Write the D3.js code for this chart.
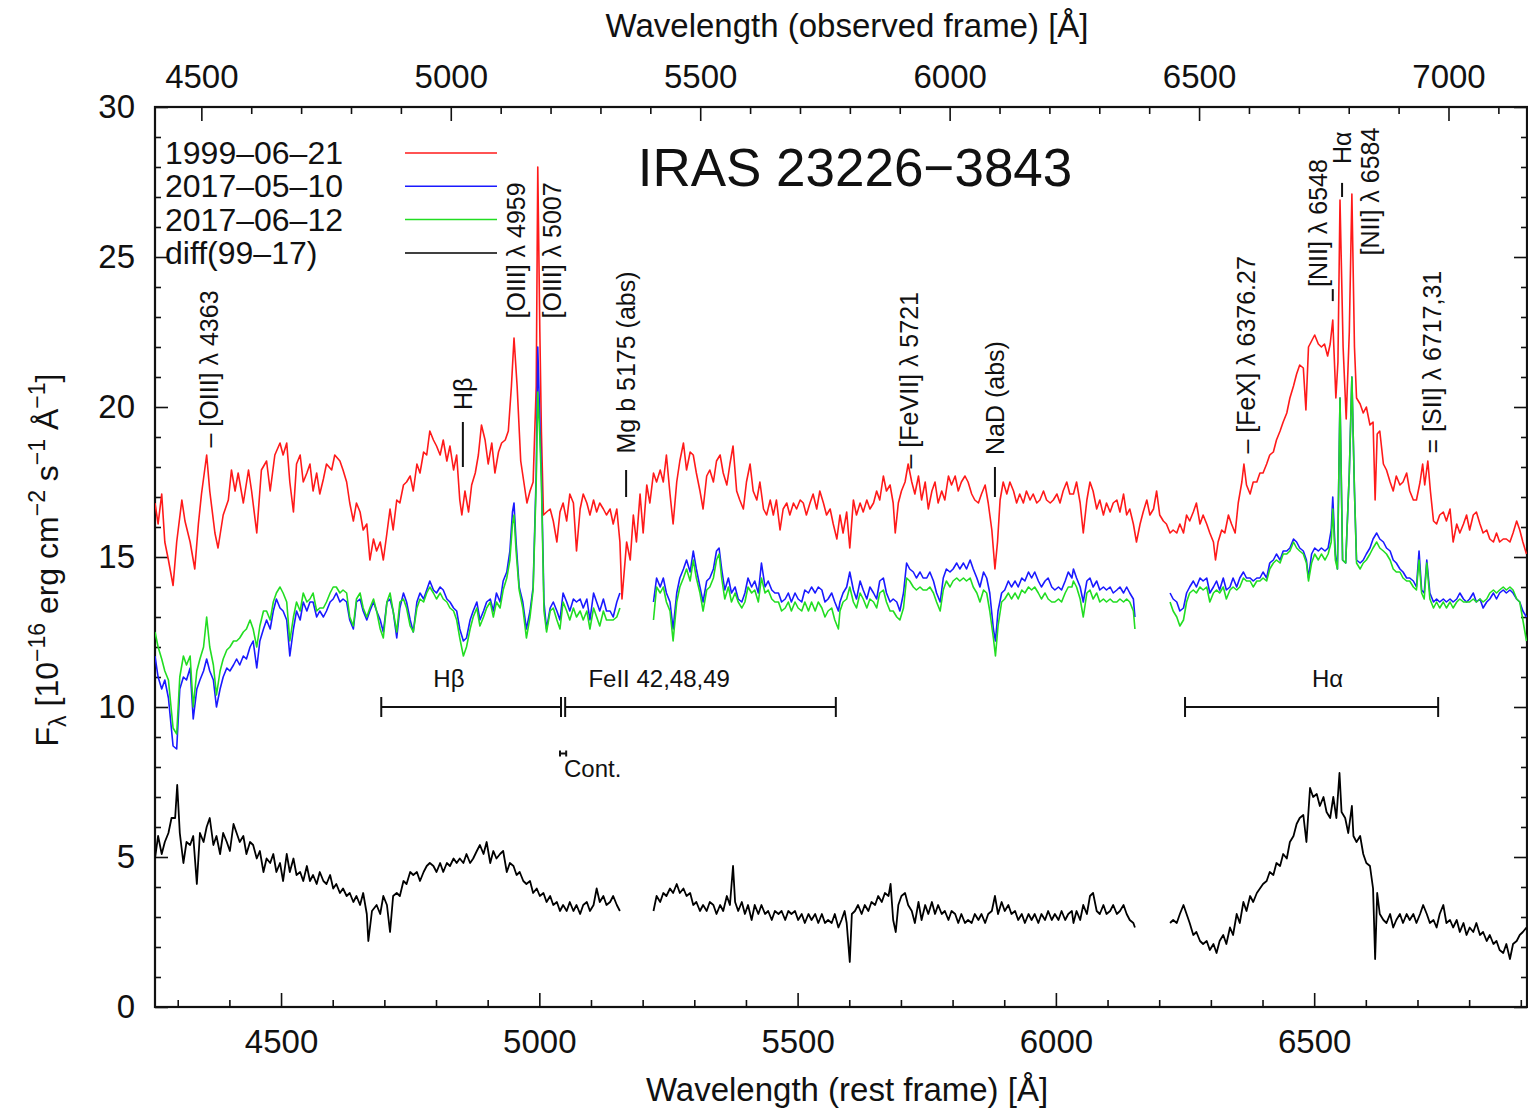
<!DOCTYPE html>
<html><head><meta charset="utf-8">
<script src="https://cdn.jsdelivr.net/npm/d3@7"></script>
<style>body{margin:0;background:#fff} text{font-family:"Liberation Sans",Arial,Helvetica,sans-serif;fill:#111}</style>
</head><body><svg id="c" width="1528" height="1110"></svg>
<script>
// ---------------- data ----------------
const restRange = [4256, 6912];
const redshift = 0.0355;
const fluxRange = [0, 30];
const restMajorTicks = [4500, 5000, 5500, 6000, 6500];
const obsMajorTicks = [4500, 5000, 5500, 6000, 6500, 7000];
const fluxMajorTicks = [0, 5, 10, 15, 20, 25, 30];
const seriesNames = ["1999\u201306\u201321", "2017\u201305\u201310", "2017\u201306\u201312", "diff(99\u201317)"];
const seriesColors = ["#ff1a1a", "#1a1aff", "#22dd22", "#000000"];
const titleText = "IRAS 23226\u22123843";

const spec1999 = [[4256,16.8],[4262,16.1],[4269,17.1],[4275,15.5],[4282,14.9],[4291,14.05],[4298,15.5],[4308,16.9],[4314,16.2],[4324,15.5],[4333,14.6],[4340,16.1],[4346,17.1],[4356,18.4],[4362,17.2],[4372,15.8],[4378,15.3],[4388,16.4],[4398,16.9],[4404,17.9],[4411,17.2],[4417,17.8],[4427,16.8],[4437,17.9],[4443,17.2],[4453,15.8],[4462,17.9],[4472,18.2],[4479,17.2],[4488,18.4],[4498,18.8],[4504,18.4],[4511,18.8],[4517,17.5],[4524,16.5],[4530,18.1],[4537,18.4],[4543,17.5],[4550,17.8],[4556,18.1],[4562,17.2],[4569,17.8],[4575,17.1],[4582,17.6],[4588,18.1],[4598,17.9],[4604,18.4],[4614,18.2],[4620,17.9],[4627,17.5],[4633,16.8],[4640,16.2],[4646,16.8],[4653,16.5],[4659,15.9],[4666,16.1],[4672,14.9],[4679,15.6],[4685,15.2],[4692,15.5],[4698,14.9],[4705,15.8],[4711,16.6],[4717,15.9],[4724,16.9],[4730,16.8],[4737,17.4],[4743,17.5],[4750,17.7],[4756,17.2],[4763,18.1],[4769,17.8],[4776,18.5],[4782,18.4],[4788,19.2],[4795,18.9],[4801,18.7],[4808,18.4],[4814,18.9],[4821,18.2],[4827,18.7],[4834,17.9],[4840,18.4],[4846,16.9],[4850,16.4],[4856,17.2],[4863,16.5],[4869,17.4],[4876,17.8],[4882,18.4],[4888,19.4],[4895,18.9],[4901,18.1],[4908,18.8],[4914,17.8],[4921,18.5],[4927,18.8],[4934,18.9],[4940,19.2],[4946,20.7],[4951,22.3],[4957,20.7],[4964,18.2],[4970,17.5],[4976,16.8],[4982,17.2],[4988,17.5],[4994,20.7],[4997,28.0],[5001,22.5],[5004,19.2],[5008,16.4],[5014,16.5],[5021,16.6],[5027,16.2],[5034,15.5],[5040,16.5],[5046,16.8],[5053,16.2],[5059,17.1],[5066,16.8],[5072,15.2],[5079,16.6],[5085,17.1],[5092,16.8],[5098,16.4],[5105,16.9],[5111,16.5],[5117,16.8],[5124,16.6],[5130,16.4],[5137,16.6],[5143,16.1],[5150,16.6],[5156,15.5],[5160,13.6],[5169,15.5],[5176,14.9],[5182,16.4],[5188,15.5],[5195,17.1],[5201,15.8],[5208,17.4],[5214,16.8],[5221,17.8],[5227,17.5],[5234,17.9],[5240,17.5],[5246,18.4],[5253,17.1],[5259,16.1],[5266,17.5],[5272,18.2],[5279,18.8],[5285,17.9],[5292,18.5],[5298,18.4],[5304,17.8],[5311,17.2],[5317,16.6],[5324,17.7],[5330,17.9],[5337,17.5],[5343,18.2],[5350,18.4],[5356,17.8],[5363,17.4],[5369,18.1],[5375,18.7],[5382,17.2],[5388,16.9],[5395,16.6],[5401,17.5],[5408,18.1],[5414,17.2],[5421,16.9],[5427,17.5],[5434,16.6],[5440,16.4],[5447,16.9],[5453,16.4],[5459,16.9],[5466,15.9],[5472,16.6],[5479,16.8],[5485,16.4],[5492,16.8],[5498,16.6],[5505,16.9],[5511,16.8],[5517,16.4],[5524,16.8],[5530,17.1],[5537,16.6],[5543,17.2],[5550,16.8],[5556,16.4],[5563,16.6],[5569,16.1],[5576,15.6],[5582,16.4],[5588,15.8],[5595,16.5],[5601,15.3],[5608,16.9],[5614,16.4],[5621,16.8],[5627,16.5],[5634,16.9],[5640,16.6],[5647,16.8],[5653,17.2],[5659,16.9],[5666,17.7],[5672,17.2],[5679,17.4],[5685,16.8],[5689,15.8],[5695,16.8],[5701,17.2],[5708,17.5],[5714,18.1],[5721,17.5],[5727,17.1],[5734,17.7],[5740,16.9],[5747,17.5],[5753,16.6],[5760,17.2],[5766,17.5],[5772,16.8],[5779,17.2],[5785,16.9],[5792,17.7],[5798,17.4],[5805,17.7],[5811,17.2],[5817,17.5],[5824,17.7],[5830,17.5],[5837,17.1],[5843,16.9],[5850,16.8],[5856,17.1],[5863,17.4],[5869,16.8],[5876,15.9],[5882,14.6],[5887,15.5],[5892,16.9],[5898,17.5],[5905,17.1],[5911,17.5],[5918,17.2],[5924,16.8],[5930,17.1],[5937,16.8],[5943,17.2],[5950,16.9],[5956,17.1],[5963,16.8],[5969,16.9],[5976,17.2],[5982,16.9],[5989,16.8],[5995,16.9],[6002,17.1],[6008,16.8],[6014,17.2],[6021,17.5],[6027,17.1],[6034,17.1],[6040,17.5],[6047,16.8],[6053,15.8],[6060,16.9],[6066,17.5],[6072,17.2],[6079,16.6],[6085,16.9],[6092,16.4],[6098,16.8],[6105,16.5],[6111,16.8],[6118,16.9],[6124,16.5],[6131,17.1],[6137,16.4],[6143,16.6],[6150,16.1],[6156,15.5],[6163,16.1],[6169,16.5],[6176,16.9],[6182,16.4],[6189,16.6],[6195,17.2],[6201,16.4],[6208,16.2],[6214,16.1],[6221,15.8],[6227,15.9],[6234,15.8],[6240,16.1],[6247,15.8],[6253,16.4],[6259,16.2],[6266,16.5],[6272,16.8],[6279,16.1],[6285,16.4],[6292,16.1],[6298,15.8],[6305,15.5],[6309,14.9],[6314,15.5],[6321,15.9],[6327,15.8],[6334,16.4],[6340,16.1],[6347,15.8],[6353,16.8],[6360,17.5],[6364,18.1],[6369,17.4],[6376,17.1],[6382,17.5],[6389,17.5],[6395,17.8],[6401,17.8],[6408,18.1],[6414,18.4],[6421,18.5],[6427,18.9],[6434,19.2],[6440,19.5],[6447,19.8],[6453,20.3],[6460,20.7],[6466,21.1],[6472,21.4],[6479,21.3],[6484,19.9],[6489,22.0],[6495,22.2],[6501,22.4],[6508,22.1],[6514,22.0],[6520,22.1],[6526,21.7],[6531,22.1],[6536,22.9],[6542,20.3],[6546,21.5],[6550,26.9],[6556,22.0],[6562,19.6],[6568,22.5],[6573,27.1],[6578,22.0],[6582,20.3],[6589,20.1],[6595,19.8],[6601,20.0],[6608,19.4],[6614,19.5],[6618,16.9],[6622,19.1],[6627,19.2],[6634,18.1],[6640,17.9],[6647,17.5],[6653,17.2],[6659,17.7],[6666,17.4],[6672,17.5],[6679,17.8],[6685,17.2],[6692,16.9],[6698,16.9],[6705,17.5],[6710,18.1],[6714,17.4],[6720,18.2],[6725,17.2],[6731,16.2],[6737,16.1],[6743,16.4],[6750,16.5],[6756,16.2],[6763,16.6],[6769,15.5],[6776,16.1],[6782,15.8],[6789,16.1],[6795,16.4],[6801,15.9],[6808,16.4],[6814,16.5],[6821,16.1],[6827,15.8],[6834,15.9],[6840,15.6],[6847,15.5],[6853,15.8],[6859,15.5],[6866,15.6],[6872,15.6],[6879,15.5],[6885,15.8],[6892,16.2],[6898,15.9],[6904,15.5],[6911,15.1]];

const spec2017may = [[4256,11.7],[4262,11.0],[4269,10.6],[4275,10.9],[4282,10.3],[4291,8.7],[4298,8.6],[4304,10.6],[4311,11.0],[4317,10.9],[4324,11.3],[4330,9.6],[4337,10.6],[4343,10.9],[4350,11.2],[4356,11.6],[4362,11.2],[4369,10.9],[4375,10.0],[4382,10.6],[4388,11.0],[4395,11.3],[4401,11.2],[4408,11.4],[4414,11.6],[4420,11.4],[4427,11.7],[4433,11.6],[4440,12.0],[4446,12.2],[4453,11.3],[4459,12.2],[4466,12.6],[4472,12.9],[4479,12.6],[4485,13.2],[4491,13.6],[4498,13.3],[4504,13.2],[4511,12.9],[4517,11.7],[4524,12.6],[4530,13.2],[4537,12.9],[4543,13.5],[4550,13.2],[4556,13.5],[4562,13.5],[4569,13.0],[4575,13.2],[4582,13.0],[4588,13.2],[4595,13.5],[4601,13.6],[4607,13.8],[4614,13.5],[4620,13.6],[4627,13.5],[4633,12.9],[4640,12.6],[4646,13.5],[4653,13.6],[4659,13.2],[4666,12.9],[4672,13.2],[4679,13.5],[4685,13.2],[4692,12.9],[4698,12.5],[4705,13.5],[4711,13.6],[4717,13.2],[4724,12.3],[4730,13.3],[4737,13.8],[4743,13.5],[4750,12.9],[4756,12.5],[4763,13.5],[4769,13.8],[4776,13.6],[4782,13.9],[4788,14.2],[4795,13.9],[4801,13.8],[4808,14.0],[4814,13.9],[4821,13.6],[4827,13.5],[4834,13.3],[4840,13.2],[4846,12.6],[4853,12.2],[4859,12.3],[4866,12.9],[4872,13.2],[4879,13.5],[4885,12.9],[4892,13.2],[4898,13.5],[4905,13.6],[4911,13.2],[4917,13.8],[4924,13.5],[4930,14.2],[4937,14.5],[4943,15.2],[4948,16.5],[4951,16.8],[4955,15.5],[4961,14.0],[4968,13.5],[4975,12.6],[4982,13.2],[4988,14.0],[4994,17.8],[4997,22.0],[5001,19.5],[5004,17.8],[5009,13.5],[5014,12.6],[5021,13.3],[5027,13.5],[5034,13.2],[5040,12.9],[5046,13.8],[5053,13.5],[5059,13.2],[5066,13.6],[5072,13.5],[5079,13.6],[5085,13.3],[5092,13.6],[5098,12.9],[5105,13.8],[5111,13.5],[5117,13.2],[5124,13.6],[5130,13.2],[5137,13.2],[5143,13.0],[5150,13.5],[5156,13.8],[5190,null],[5221,13.5],[5227,14.3],[5234,14.0],[5240,14.3],[5246,13.8],[5253,13.5],[5259,12.6],[5266,13.8],[5272,14.3],[5279,14.6],[5285,14.9],[5292,14.5],[5298,15.2],[5304,14.6],[5311,14.0],[5317,13.5],[5324,14.2],[5330,14.3],[5337,14.6],[5343,15.2],[5348,15.3],[5353,14.6],[5359,13.9],[5366,14.3],[5372,13.8],[5379,14.0],[5385,13.6],[5392,13.5],[5398,13.8],[5404,14.3],[5411,14.0],[5417,14.2],[5424,13.8],[5430,14.8],[5437,14.0],[5443,14.2],[5450,13.9],[5456,13.8],[5463,13.8],[5469,13.5],[5476,13.6],[5482,13.8],[5488,13.5],[5495,13.8],[5501,13.6],[5508,13.5],[5514,13.9],[5521,13.8],[5527,14.0],[5534,13.8],[5540,14.0],[5547,13.9],[5553,13.5],[5559,13.6],[5566,13.8],[5572,13.5],[5579,13.2],[5582,13.5],[5588,13.8],[5595,14.0],[5601,14.5],[5608,13.9],[5614,13.6],[5621,14.2],[5627,13.9],[5634,13.6],[5640,14.0],[5647,13.8],[5653,13.6],[5659,14.2],[5666,14.3],[5672,13.8],[5679,13.5],[5685,13.6],[5692,13.5],[5698,13.2],[5705,13.8],[5711,14.8],[5717,14.6],[5724,14.5],[5730,14.3],[5737,14.5],[5743,14.3],[5750,14.3],[5756,14.5],[5763,14.2],[5769,13.8],[5776,13.5],[5782,14.3],[5788,14.6],[5795,14.5],[5801,14.6],[5808,14.8],[5814,14.6],[5821,14.8],[5827,14.6],[5834,14.9],[5840,14.6],[5847,14.3],[5853,14.0],[5860,14.5],[5866,14.3],[5872,13.8],[5879,12.6],[5883,12.2],[5888,13.2],[5895,13.8],[5901,13.9],[5908,14.2],[5914,14.0],[5921,14.2],[5927,14.0],[5934,14.3],[5940,14.2],[5947,14.5],[5953,14.3],[5959,14.5],[5966,14.2],[5972,14.0],[5979,14.2],[5985,14.3],[5992,14.0],[5998,13.9],[6005,14.0],[6011,13.9],[6018,14.2],[6024,14.5],[6031,14.3],[6034,14.6],[6040,14.3],[6047,14.0],[6053,13.5],[6060,14.2],[6066,14.3],[6072,14.0],[6079,14.2],[6085,13.9],[6092,14.0],[6098,13.9],[6105,14.0],[6111,13.8],[6118,13.9],[6124,14.0],[6131,13.8],[6137,14.0],[6143,13.8],[6150,13.6],[6153,13.0],[6187,null],[6221,13.8],[6227,13.6],[6234,13.5],[6240,13.2],[6247,13.3],[6253,13.8],[6259,14.0],[6266,14.2],[6272,14.0],[6279,14.3],[6285,14.2],[6292,14.3],[6298,13.8],[6305,14.0],[6311,14.2],[6317,13.9],[6324,14.3],[6330,13.9],[6337,14.0],[6343,14.3],[6350,14.0],[6356,14.3],[6363,14.5],[6369,14.3],[6376,14.3],[6382,14.2],[6389,14.3],[6395,14.3],[6401,14.5],[6408,14.3],[6414,14.8],[6421,14.9],[6427,15.1],[6434,14.9],[6440,15.2],[6447,15.2],[6453,15.3],[6460,15.6],[6466,15.5],[6472,15.3],[6479,15.2],[6485,14.9],[6489,14.3],[6495,15.1],[6501,15.3],[6508,15.2],[6514,15.3],[6521,15.2],[6527,15.3],[6533,15.9],[6536,17.0],[6541,15.1],[6545,14.6],[6550,20.3],[6555,14.9],[6561,14.8],[6568,17.8],[6573,21.0],[6578,17.2],[6582,14.9],[6589,14.8],[6595,14.9],[6601,15.1],[6608,15.3],[6614,15.6],[6621,15.8],[6627,15.6],[6634,15.5],[6640,15.3],[6647,15.2],[6653,14.9],[6659,14.8],[6666,14.6],[6672,14.5],[6679,14.3],[6685,14.3],[6692,14.2],[6698,14.0],[6703,15.2],[6708,13.9],[6713,13.8],[6718,14.9],[6724,13.8],[6731,13.5],[6737,13.6],[6743,13.5],[6750,13.6],[6756,13.5],[6763,13.6],[6769,13.5],[6776,13.6],[6782,13.8],[6789,13.6],[6795,13.5],[6801,13.6],[6808,13.8],[6814,13.5],[6821,13.6],[6827,13.3],[6834,13.5],[6840,13.6],[6847,13.8],[6853,13.6],[6859,13.8],[6866,13.9],[6872,13.8],[6879,13.9],[6885,13.8],[6892,13.6],[6898,13.5],[6904,13.2],[6911,13.0]];

const spec2017jun = [[4256,12.5],[4262,12.0],[4269,11.6],[4275,11.2],[4282,10.9],[4291,9.3],[4298,9.1],[4304,11.0],[4311,11.7],[4317,11.4],[4324,11.7],[4330,10.0],[4337,11.2],[4343,11.6],[4350,12.0],[4356,13.0],[4362,12.0],[4369,11.4],[4375,10.4],[4382,11.2],[4388,11.6],[4395,11.9],[4401,12.0],[4408,12.2],[4414,12.2],[4420,12.3],[4427,12.5],[4433,12.6],[4440,12.9],[4446,12.6],[4453,12.0],[4459,12.7],[4466,13.2],[4472,13.2],[4479,12.9],[4485,13.5],[4491,13.8],[4498,14.0],[4504,13.8],[4511,13.5],[4517,12.2],[4524,13.0],[4530,13.5],[4537,13.2],[4543,13.8],[4550,13.5],[4556,13.6],[4562,13.8],[4569,13.2],[4575,13.3],[4582,13.3],[4588,13.5],[4595,13.8],[4601,14.0],[4607,14.0],[4614,13.8],[4620,13.9],[4627,13.8],[4633,13.0],[4640,12.7],[4646,13.6],[4653,13.8],[4659,13.3],[4666,13.0],[4672,13.3],[4679,13.6],[4685,13.2],[4692,12.6],[4698,12.3],[4705,13.5],[4711,13.8],[4717,13.2],[4724,12.5],[4730,13.5],[4737,13.6],[4743,13.3],[4750,12.7],[4756,12.5],[4763,13.3],[4769,13.6],[4776,13.5],[4782,13.8],[4788,14.0],[4795,13.8],[4801,13.6],[4808,13.8],[4814,13.6],[4821,13.5],[4827,13.3],[4834,13.2],[4840,12.9],[4846,12.3],[4853,11.7],[4859,12.0],[4866,12.6],[4872,13.0],[4879,13.3],[4885,12.7],[4892,13.0],[4898,13.3],[4905,13.5],[4911,13.0],[4917,13.5],[4924,13.3],[4930,13.9],[4937,14.3],[4943,14.9],[4948,16.1],[4951,16.4],[4955,15.2],[4961,13.9],[4968,13.3],[4975,12.3],[4982,13.0],[4988,13.9],[4994,17.5],[4997,20.5],[5001,19.0],[5004,17.5],[5009,13.2],[5014,12.5],[5021,13.2],[5027,13.3],[5034,12.9],[5040,12.6],[5046,13.5],[5053,13.2],[5059,12.9],[5066,13.3],[5072,13.0],[5079,13.2],[5085,12.9],[5092,13.2],[5098,12.6],[5105,13.3],[5111,13.0],[5117,12.7],[5124,13.2],[5130,12.9],[5137,12.9],[5143,12.9],[5150,13.0],[5156,13.3],[5190,null],[5221,12.9],[5227,14.0],[5234,13.8],[5240,14.0],[5246,13.5],[5253,13.2],[5259,12.2],[5266,13.5],[5272,14.0],[5279,14.3],[5285,14.6],[5292,14.2],[5298,14.9],[5304,14.3],[5311,13.8],[5317,13.2],[5324,13.9],[5330,14.0],[5337,14.3],[5343,14.9],[5348,15.1],[5353,14.3],[5359,13.6],[5366,14.0],[5372,13.5],[5379,13.8],[5385,13.5],[5392,13.3],[5398,13.5],[5404,14.0],[5411,13.8],[5417,13.9],[5424,13.5],[5430,14.3],[5437,13.8],[5443,13.9],[5450,13.6],[5456,13.5],[5463,13.5],[5469,13.2],[5476,13.3],[5482,13.5],[5488,13.2],[5495,13.5],[5501,13.3],[5508,13.2],[5514,13.5],[5521,13.2],[5527,13.5],[5534,13.2],[5540,13.5],[5547,13.3],[5553,13.0],[5559,13.2],[5566,13.3],[5572,12.9],[5579,12.6],[5582,13.2],[5588,13.5],[5595,13.6],[5601,14.0],[5608,13.5],[5614,13.3],[5621,13.8],[5627,13.6],[5634,13.3],[5640,13.6],[5647,13.5],[5653,13.3],[5659,13.8],[5666,13.9],[5672,13.5],[5679,13.2],[5685,13.2],[5692,13.0],[5698,12.9],[5705,13.3],[5711,14.3],[5717,14.2],[5724,14.0],[5730,13.9],[5737,14.0],[5743,13.9],[5750,13.9],[5756,14.0],[5763,13.8],[5769,13.5],[5776,13.2],[5782,13.9],[5788,14.2],[5795,14.0],[5801,14.2],[5808,14.3],[5814,14.2],[5821,14.3],[5827,14.2],[5834,14.3],[5840,14.0],[5847,13.8],[5853,13.5],[5860,13.9],[5866,13.8],[5872,13.2],[5879,12.3],[5883,11.7],[5888,12.7],[5895,13.5],[5901,13.6],[5908,13.8],[5914,13.6],[5921,13.8],[5927,13.6],[5934,13.9],[5940,13.8],[5947,14.0],[5953,13.9],[5959,14.0],[5966,13.8],[5972,13.6],[5979,13.8],[5985,13.6],[5992,13.5],[5998,13.5],[6005,13.6],[6011,13.5],[6018,13.8],[6024,14.0],[6031,14.0],[6034,14.2],[6040,14.0],[6047,13.6],[6053,13.0],[6060,13.8],[6066,13.9],[6072,13.6],[6079,13.8],[6085,13.5],[6092,13.6],[6098,13.5],[6105,13.6],[6111,13.5],[6118,13.5],[6124,13.6],[6131,13.5],[6137,13.6],[6143,13.5],[6150,13.2],[6153,12.6],[6187,null],[6221,13.5],[6227,13.2],[6234,13.0],[6240,12.7],[6247,12.9],[6253,13.5],[6259,13.8],[6266,13.9],[6272,13.8],[6279,14.0],[6285,13.9],[6292,14.0],[6298,13.5],[6305,13.8],[6311,13.9],[6317,13.8],[6324,14.0],[6330,13.6],[6337,13.9],[6343,14.0],[6350,13.9],[6356,14.0],[6363,14.3],[6369,14.2],[6376,14.2],[6382,14.0],[6389,14.2],[6395,14.2],[6401,14.3],[6408,14.2],[6414,14.6],[6421,14.8],[6427,14.9],[6434,14.8],[6440,15.1],[6447,15.1],[6453,15.2],[6460,15.5],[6466,15.3],[6472,15.2],[6479,15.1],[6485,14.8],[6489,14.2],[6495,14.8],[6501,15.1],[6508,14.9],[6514,15.1],[6521,14.9],[6527,15.1],[6533,15.5],[6536,16.6],[6541,14.9],[6545,14.6],[6550,20.3],[6555,14.9],[6561,14.8],[6568,17.8],[6573,21.0],[6578,17.2],[6582,14.8],[6589,14.6],[6595,14.8],[6601,14.9],[6608,15.1],[6614,15.3],[6621,15.5],[6627,15.3],[6634,15.2],[6640,15.1],[6647,14.9],[6653,14.6],[6659,14.5],[6666,14.5],[6672,14.3],[6679,14.2],[6685,14.2],[6692,14.0],[6698,13.9],[6703,14.9],[6708,13.8],[6713,13.6],[6718,14.8],[6724,13.6],[6731,13.3],[6737,13.5],[6743,13.3],[6750,13.5],[6756,13.3],[6763,13.5],[6769,13.3],[6776,13.5],[6782,13.6],[6789,13.5],[6795,13.5],[6801,13.5],[6808,13.6],[6814,13.5],[6821,13.6],[6827,13.5],[6834,13.6],[6840,13.8],[6847,13.9],[6853,13.8],[6859,13.9],[6866,14.0],[6872,13.9],[6879,14.0],[6885,13.9],[6892,13.6],[6898,13.5],[6904,12.9],[6911,12.2]];

const specDiff = [[4256,4.95],[4262,5.7],[4269,5.1],[4275,5.5],[4282,5.8],[4288,6.3],[4295,6.3],[4299,7.4],[4304,5.8],[4311,4.8],[4317,5.5],[4324,5.4],[4330,5.7],[4337,4.1],[4343,5.8],[4350,5.5],[4356,6.0],[4362,6.3],[4369,5.4],[4375,5.7],[4382,5.1],[4388,5.8],[4395,5.5],[4401,5.2],[4408,6.1],[4414,5.8],[4420,5.5],[4427,5.7],[4433,5.1],[4440,5.5],[4446,5.4],[4453,4.95],[4459,5.2],[4466,4.5],[4472,4.95],[4479,4.8],[4485,5.1],[4491,4.5],[4498,4.8],[4504,4.2],[4511,5.1],[4517,4.5],[4524,4.95],[4530,4.4],[4537,4.5],[4543,4.2],[4550,4.7],[4556,4.2],[4562,4.4],[4569,4.1],[4575,4.5],[4582,4.2],[4588,4.1],[4595,4.4],[4601,3.95],[4607,4.1],[4614,3.8],[4620,3.95],[4627,3.7],[4633,3.8],[4640,3.5],[4646,3.7],[4653,3.4],[4659,3.8],[4666,3.1],[4669,2.2],[4676,3.2],[4685,3.4],[4692,3.1],[4698,3.7],[4705,3.4],[4711,2.5],[4717,3.7],[4724,3.8],[4730,3.7],[4737,4.2],[4743,4.1],[4750,4.5],[4756,4.4],[4763,4.5],[4769,4.2],[4776,4.5],[4782,4.7],[4788,4.8],[4795,4.7],[4801,4.5],[4808,4.8],[4814,4.5],[4821,4.8],[4827,4.7],[4834,4.95],[4840,4.8],[4846,4.95],[4853,4.8],[4859,5.1],[4866,4.8],[4872,4.95],[4879,5.2],[4885,5.4],[4892,5.1],[4898,5.5],[4905,4.8],[4911,5.2],[4917,4.95],[4924,5.1],[4930,5.2],[4937,4.5],[4943,4.8],[4950,4.7],[4956,4.4],[4962,4.5],[4969,4.2],[4975,4.1],[4982,4.2],[4988,3.8],[4995,3.95],[5001,3.7],[5008,3.8],[5014,3.5],[5021,3.7],[5027,3.4],[5034,3.5],[5040,3.2],[5046,3.4],[5053,3.2],[5059,3.5],[5066,3.2],[5072,3.4],[5079,3.1],[5085,3.4],[5092,3.5],[5098,3.2],[5105,3.4],[5111,3.95],[5117,3.5],[5124,3.7],[5130,3.4],[5137,3.5],[5143,3.7],[5150,3.4],[5156,3.2],[5190,null],[5221,3.2],[5227,3.7],[5234,3.5],[5240,3.8],[5246,3.7],[5253,3.95],[5259,3.8],[5266,4.1],[5272,3.8],[5279,3.95],[5285,3.7],[5292,3.8],[5298,3.4],[5304,3.5],[5311,3.2],[5317,3.4],[5324,3.2],[5330,3.5],[5337,3.4],[5343,3.1],[5350,3.4],[5356,3.2],[5363,3.7],[5369,3.4],[5375,4.7],[5379,3.5],[5385,3.2],[5392,3.5],[5398,3.1],[5404,3.4],[5411,2.9],[5417,3.4],[5424,3.1],[5430,3.4],[5437,3.1],[5443,3.2],[5450,2.9],[5456,3.2],[5463,3.1],[5469,3.2],[5476,2.9],[5482,3.2],[5488,3.1],[5495,3.2],[5501,2.9],[5508,3.1],[5514,2.8],[5521,3.1],[5527,2.9],[5534,3.1],[5540,2.8],[5547,3.1],[5553,2.8],[5559,2.9],[5566,2.8],[5572,3.1],[5579,2.65],[5585,2.9],[5591,3.2],[5595,2.8],[5601,1.5],[5605,3.1],[5611,3.2],[5617,3.4],[5624,3.1],[5630,3.4],[5637,3.2],[5643,3.5],[5650,3.4],[5656,3.7],[5663,3.5],[5669,3.8],[5676,3.7],[5680,4.1],[5685,2.9],[5690,2.5],[5695,3.4],[5701,3.7],[5708,3.8],[5714,3.4],[5721,3.2],[5727,2.8],[5734,3.5],[5740,2.9],[5747,3.4],[5753,3.1],[5760,3.5],[5766,3.1],[5772,3.4],[5779,3.1],[5785,3.2],[5792,2.9],[5798,3.2],[5805,3.1],[5811,2.8],[5817,3.1],[5824,2.8],[5830,2.9],[5837,2.8],[5843,3.1],[5850,2.9],[5856,3.1],[5863,2.8],[5869,3.1],[5876,3.2],[5882,3.7],[5888,3.1],[5895,3.5],[5901,3.2],[5908,3.4],[5914,3.1],[5921,3.2],[5927,2.9],[5934,3.1],[5940,2.8],[5947,3.1],[5953,2.9],[5959,3.1],[5966,2.8],[5972,3.1],[5979,2.9],[5985,3.2],[5992,2.9],[5998,3.1],[6005,2.9],[6011,3.2],[6018,2.9],[6024,3.1],[6031,3.2],[6034,2.8],[6040,3.2],[6047,2.9],[6053,3.4],[6060,3.1],[6066,3.7],[6072,3.8],[6079,3.2],[6085,3.1],[6092,3.4],[6098,3.1],[6105,3.2],[6111,3.4],[6118,3.1],[6124,3.2],[6131,3.4],[6137,3.1],[6143,2.9],[6150,2.8],[6153,2.65],[6187,null],[6221,2.8],[6227,2.9],[6234,2.8],[6240,3.1],[6247,3.4],[6253,3.1],[6259,2.8],[6266,2.4],[6272,2.5],[6279,2.2],[6285,2.1],[6292,2.2],[6298,1.9],[6305,2.1],[6311,1.8],[6317,2.2],[6324,2.4],[6330,2.1],[6337,2.65],[6343,2.4],[6350,3.1],[6356,2.8],[6363,3.5],[6369,3.2],[6376,3.7],[6382,3.5],[6389,3.8],[6395,3.95],[6401,4.1],[6408,4.2],[6414,4.5],[6421,4.4],[6427,4.8],[6434,4.7],[6440,5.1],[6447,4.95],[6453,5.5],[6460,5.7],[6466,6.1],[6472,6.3],[6479,6.4],[6485,5.5],[6492,7.3],[6498,7.0],[6505,7.1],[6511,6.7],[6518,7.0],[6524,6.5],[6531,6.3],[6537,7.0],[6543,6.3],[6549,7.8],[6553,6.5],[6560,6.3],[6566,5.8],[6573,6.7],[6576,5.7],[6582,5.5],[6589,5.7],[6595,5.1],[6601,4.8],[6608,4.7],[6614,3.95],[6618,1.6],[6622,3.8],[6627,3.1],[6634,2.9],[6640,2.8],[6647,3.1],[6653,2.65],[6659,2.9],[6666,3.1],[6672,2.8],[6679,3.1],[6685,2.9],[6692,3.1],[6698,2.8],[6705,3.1],[6711,3.4],[6718,3.1],[6724,2.8],[6731,2.9],[6737,2.65],[6743,3.1],[6750,3.4],[6756,2.8],[6763,2.9],[6769,2.65],[6776,2.9],[6782,2.5],[6789,2.8],[6795,2.4],[6801,2.65],[6808,2.5],[6814,2.8],[6821,2.4],[6827,2.5],[6834,2.2],[6840,2.4],[6847,2.1],[6853,2.2],[6859,1.9],[6866,1.8],[6872,2.1],[6879,1.6],[6885,2.1],[6892,2.2],[6898,2.4],[6904,2.5],[6911,2.65]];

// line identifications: [text, rest wavelength of label, flux at label start]
const lineLabels = [
  ["\u2013 [OIII] \u03bb 4363", 4360, 18.65],
  ["H\u03b2", 4852, 19.9],
  ["[OIII] \u03bb 4959", 4955, 22.95],
  ["[OIII] \u03bb 5007", 5024, 22.95],
  ["Mg b 5175 (abs)", 5168, 18.45],
  ["\u2013 [FeVII] \u03bb 5721", 5716, 17.95],
  ["NaD (abs)", 5882, 18.4],
  ["\u2013 [FeX] \u03bb 6376.27", 6368, 18.45],
  ["[NII] \u03bb 6548", 6507, 24.0],
  ["H\u03b1", 6554, 28.1],
  ["[NII] \u03bb 6584", 6608, 25.05],
  ["= [SII] \u03bb 6717,31", 6728, 18.45]
];
// marker bars: [rest wavelength, flux low, flux high]
const lineMarks = [[4852, 18.0, 19.5], [5168, 17.0, 17.9], [5882, 17.0, 18.0], [6536, 23.53, 23.93], [6554, 27.0, 27.47]];
// fitting windows: [label, from, to, label position]
const windows = [["H\u03b2", 4694, 5042, 4825], ["FeII 42,48,49", 5050, 5574, 5232], ["H\u03b1", 6250, 6740, 6526]];
const windowFlux = 10;
const contWindow = [5040, 5052];
const contFlux = 8.45;

// ---------------- drawing ----------------
const svg = d3.select("#c");
const L = 155, R = 1527, T = 107, B = 1007;
const x = d3.scaleLinear().domain(restRange).range([L, R]);
const xo = d3.scaleLinear().domain(restRange.map(v => v * (1 + redshift))).range([L, R]);
const y = d3.scaleLinear().domain(fluxRange).range([B, T]);
const FONT = '"Liberation Sans",Arial,Helvetica,sans-serif';
const TICKFS = 33;

function styleAxis(g, size) {
  g.attr("font-family", FONT).attr("font-size", size);
  g.select(".domain").remove();
  g.selectAll(".tick line").attr("stroke", "#111").attr("stroke-width", 1.6);
  g.selectAll(".tick text").attr("fill", "#111");
}
const range = (a, b, s) => d3.range(a, b + 1e-9, s);
// bottom
svg.append("g").attr("transform", `translate(0,${B})`)
  .call(d3.axisBottom(x).tickValues(range(4300, 6900, 100).filter(v => v % 500)).tickSize(-7).tickFormat(""))
  .call(g => styleAxis(g, TICKFS));
svg.append("g").attr("transform", `translate(0,${B})`)
  .call(d3.axisBottom(x).tickValues(restMajorTicks).tickSize(-14).tickPadding(23).tickFormat(d3.format("d")))
  .call(g => styleAxis(g, TICKFS));
// top (observed frame)
svg.append("g").attr("transform", `translate(0,${T})`)
  .call(d3.axisTop(xo).tickValues(range(4500, 7100, 100).filter(v => v % 500)).tickSize(-7).tickFormat(""))
  .call(g => styleAxis(g, TICKFS));
svg.append("g").attr("transform", `translate(0,${T})`)
  .call(d3.axisTop(xo).tickValues(obsMajorTicks).tickSize(-14).tickPadding(19).tickFormat(d3.format("d")))
  .call(g => styleAxis(g, TICKFS));
// left
svg.append("g").attr("transform", `translate(${L},0)`)
  .call(d3.axisLeft(y).tickValues(range(1, 29, 1).filter(v => v % 5)).tickSize(-6).tickFormat(""))
  .call(g => styleAxis(g, TICKFS));
svg.append("g").attr("transform", `translate(${L},0)`)
  .call(d3.axisLeft(y).tickValues(fluxMajorTicks).tickSize(-13).tickPadding(20).tickFormat(d3.format("d")))
  .call(g => styleAxis(g, TICKFS));
// right
svg.append("g").attr("transform", `translate(${R},0)`)
  .call(d3.axisRight(y).tickValues(range(1, 29, 1).filter(v => v % 5)).tickSize(-6).tickFormat(""))
  .call(g => styleAxis(g, TICKFS));
svg.append("g").attr("transform", `translate(${R},0)`)
  .call(d3.axisRight(y).tickValues(fluxMajorTicks).tickSize(-13).tickFormat(""))
  .call(g => styleAxis(g, TICKFS));

// frame
svg.append("rect").attr("x", L).attr("y", T).attr("width", R - L).attr("height", B - T)
  .attr("fill", "none").attr("stroke", "#111").attr("stroke-width", 2.2);

// spectra
const clipId = "plotclip";
svg.append("clipPath").attr("id", clipId).append("rect").attr("x", L).attr("y", T).attr("width", R - L).attr("height", B - T);
const line = d3.line().defined(d => d[1] != null).x(d => x(d[0])).y(d => y(d[1]));
const plot = svg.append("g").attr("clip-path", `url(#${clipId})`);
const allSeries = [spec1999, spec2017may, spec2017jun, specDiff];
allSeries.forEach((s, i) => {
  plot.append("path").datum(s).attr("d", line).attr("fill", "none")
    .attr("stroke", seriesColors[i]).attr("stroke-width", i === 3 ? 1.8 : 1.6)
    .attr("stroke-linejoin", "round");
});

// legend
const leg = svg.append("g");
seriesNames.forEach((n, i) => {
  const yy = 153 + i * 33.3;
  leg.append("text").attr("x", 165).attr("y", yy + 11).attr("font-size", 32).text(n);
  leg.append("line").attr("x1", 405).attr("x2", 497).attr("y1", yy).attr("y2", yy)
    .attr("stroke", seriesColors[i]).attr("stroke-width", 1.5);
});

// title
svg.append("text").attr("x", 855).attr("y", 186).attr("text-anchor", "middle")
  .attr("font-size", 53).text(titleText);

// line labels (rotated)
const ann = svg.append("g").attr("font-size", 25);
lineLabels.forEach(([t, w, f]) => {
  const px = x(w) + 9, py = y(f);
  ann.append("text").attr("transform", `translate(${px},${py}) rotate(-90)`).text(t);
});
lineMarks.forEach(([w, f0, f1]) => {
  ann.append("line").attr("x1", x(w)).attr("x2", x(w)).attr("y1", y(f0)).attr("y2", y(f1))
    .attr("stroke", "#111").attr("stroke-width", 2);
});

// fitting windows
const wg = svg.append("g");
windows.forEach(([t, a, b, lp]) => {
  const yy = y(windowFlux);
  wg.append("line").attr("x1", x(a)).attr("x2", x(b)).attr("y1", yy).attr("y2", yy).attr("stroke", "#111").attr("stroke-width", 2);
  [a, b].forEach(v => wg.append("line").attr("x1", x(v)).attr("x2", x(v)).attr("y1", yy - 10).attr("y2", yy + 10).attr("stroke", "#111").attr("stroke-width", 2));
  wg.append("text").attr("x", x(lp)).attr("y", yy - 20).attr("text-anchor", "middle").attr("font-size", 24).text(t);
});
{
  const yy = y(contFlux);
  wg.append("line").attr("x1", x(contWindow[0])).attr("x2", x(contWindow[1])).attr("y1", yy).attr("y2", yy).attr("stroke", "#111").attr("stroke-width", 2);
  contWindow.forEach(v => wg.append("line").attr("x1", x(v)).attr("x2", x(v)).attr("y1", yy - 3).attr("y2", yy + 3).attr("stroke", "#111").attr("stroke-width", 2));
  wg.append("text").attr("x", x(contWindow[0]) + 4).attr("y", yy + 23).attr("font-size", 24).text("Cont.");
}

// axis titles
svg.append("text").attr("x", 847).attr("y", 37).attr("text-anchor", "middle").attr("font-size", 33)
  .text("Wavelength (observed frame) [\u00c5]");
svg.append("text").attr("x", 847).attr("y", 1101).attr("text-anchor", "middle").attr("font-size", 33)
  .text("Wavelength (rest frame) [\u00c5]");
const yl = svg.append("text").attr("transform", "translate(58,560) rotate(-90)").attr("text-anchor", "middle").attr("font-size", 32);
yl.append("tspan").text("F");
yl.append("tspan").attr("font-size", 23).attr("dy", 8).text("\u03bb");
yl.append("tspan").attr("dy", -8).text(" [10");
yl.append("tspan").attr("font-size", 23).attr("dy", -13).text("\u221216");
yl.append("tspan").attr("dy", 13).text(" erg cm");
yl.append("tspan").attr("font-size", 23).attr("dy", -13).text("\u22122");
yl.append("tspan").attr("dy", 13).text(" s");
yl.append("tspan").attr("font-size", 23).attr("dy", -13).text("\u22121");
yl.append("tspan").attr("dy", 13).text(" \u00c5");
yl.append("tspan").attr("font-size", 23).attr("dy", -13).text("\u22121");
yl.append("tspan").attr("dy", 13).text("]");
</script></body></html>
